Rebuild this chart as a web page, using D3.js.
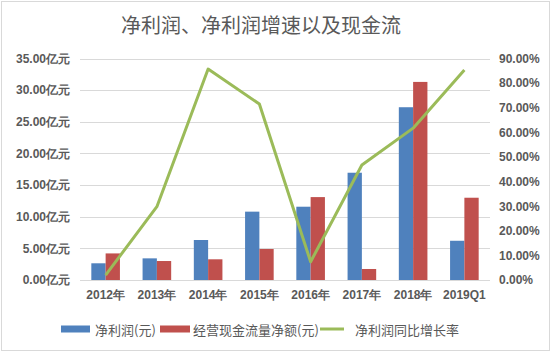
<!DOCTYPE html>
<html lang="zh">
<head>
<meta charset="UTF-8">
<title>净利润、净利润增速以及现金流</title>
<script src="https://d3js.org/d3.v7.min.js"></script>
<style>
  html, body { margin: 0; padding: 0; background: #fff; }
  svg { display: block; font-family: "Noto Sans CJK SC", "DejaVu Sans", sans-serif; }
  .axis text { fill: #595959; font-size: 12px; font-weight: bold; }
  .axis path, .axis line { display: none; }
  .grid line { stroke: #d9d9d9; stroke-width: 1; shape-rendering: crispEdges; }
  .legend text { fill: #595959; font-size: 13px; }
</style>
</head>
<body>
<svg id="chart" width="553" height="353"></svg>
<script>
// data
var years = ["2012年", "2013年", "2014年", "2015年", "2016年", "2017年", "2018年", "2019Q1"];
var netProfit = [2.64, 3.42, 6.32, 10.8, 11.58, 16.95, 27.3, 6.2];     // 亿元
var cashFlow  = [4.2, 3.0, 3.27, 4.9, 13.1, 1.74, 31.3, 13.0];          // 亿元
var growth    = [2.0, 29.8, 85.7, 71.5, 7.4, 46.7, 61.7, 85.3];         // %
var leftTicks = [0, 5, 10, 15, 20, 25, 30, 35];
var rightTicks = [0, 10, 20, 30, 40, 50, 60, 70, 80, 90];

var colors = { profit: "#4f81bd", cash: "#c0504d", growth: "#9bbb59" };

var svg = d3.select("#chart");
var plot = { left: 80, right: 490, top: 58.5, bottom: 280 };

// chart border
svg.append("rect")
    .attr("x", 1.5).attr("y", 1.5)
    .attr("width", 548).attr("height", 349)
    .attr("fill", "none").attr("stroke", "#d9d9d9");

svg.append("text")
    .attr("x", 261).attr("y", 24)
    .attr("text-anchor", "middle").attr("dominant-baseline", "central")
    .attr("fill", "#595959").style("font-size", "20px")
    .text("净利润、净利润增速以及现金流");

var x = d3.scaleBand().domain(years).range([plot.left, plot.right]);
var y = d3.scaleLinear().domain([0, 35]).range([plot.bottom, plot.top]);
var y2 = d3.scaleLinear().domain([0, 90]).range([plot.bottom, plot.top]);
var barW = 14.3;

// gridlines
svg.append("g").attr("class", "grid")
  .selectAll("line").data(leftTicks).enter().append("line")
    .attr("x1", plot.left).attr("x2", plot.right)
    .attr("y1", function(d) { return Math.round(y(d)) + 0.5; })
    .attr("y2", function(d) { return Math.round(y(d)) + 0.5; });

// axes
svg.append("g").attr("class", "axis")
    .attr("transform", "translate(" + (plot.left) + ",0)")
    .call(d3.axisLeft(y).tickValues(leftTicks).tickSize(0).tickPadding(10)
        .tickFormat(function(d) { return d.toFixed(2) + "亿元"; }));

svg.append("g").attr("class", "axis")
    .attr("transform", "translate(" + (plot.right - 1) + ",0)")
    .call(d3.axisRight(y2).tickValues(rightTicks).tickSize(0).tickPadding(10)
        .tickFormat(function(d) { return d.toFixed(2) + "%"; }));

svg.append("g").attr("class", "axis")
    .attr("transform", "translate(0," + plot.bottom + ")")
    .call(d3.axisBottom(x).tickSize(0).tickPadding(10));

// bars
var cx = function(i) { return x(years[i]) + x.bandwidth() / 2; };

svg.append("g").selectAll("rect").data(netProfit).enter().append("rect")
    .attr("x", function(d, i) { return cx(i) - barW; })
    .attr("width", barW)
    .attr("y", function(d) { return y(d); })
    .attr("height", function(d) { return y(0) - y(d); })
    .attr("fill", colors.profit);

svg.append("g").selectAll("rect").data(cashFlow).enter().append("rect")
    .attr("x", function(d, i) { return cx(i); })
    .attr("width", barW)
    .attr("y", function(d) { return y(d); })
    .attr("height", function(d) { return y(0) - y(d); })
    .attr("fill", colors.cash);

// growth line
var line = d3.line()
    .x(function(d, i) { return cx(i); })
    .y(function(d) { return y2(d); });

svg.append("path")
    .datum(growth)
    .attr("d", line)
    .attr("fill", "none")
    .attr("stroke", colors.growth)
    .attr("stroke-width", 3)
    .attr("stroke-linejoin", "round");

// legend
var legend = svg.append("g").attr("class", "legend");
var ly = 329;
legend.append("rect").attr("x", 61).attr("y", ly - 3.5).attr("width", 29).attr("height", 7).attr("fill", colors.profit);
legend.append("text").attr("x", 95).attr("y", ly).attr("dominant-baseline", "central").text("净利润(元)");
legend.append("rect").attr("x", 160).attr("y", ly - 3.5).attr("width", 30).attr("height", 7).attr("fill", colors.cash);
legend.append("text").attr("x", 193).attr("y", ly).attr("dominant-baseline", "central").text("经营现金流量净额(元)");
legend.append("line").attr("x1", 320).attr("x2", 344).attr("y1", ly).attr("y2", ly)
    .attr("stroke", colors.growth).attr("stroke-width", 3);
legend.append("text").attr("x", 355).attr("y", ly).attr("dominant-baseline", "central").text("净利润同比增长率");
</script>
</body>
</html>
